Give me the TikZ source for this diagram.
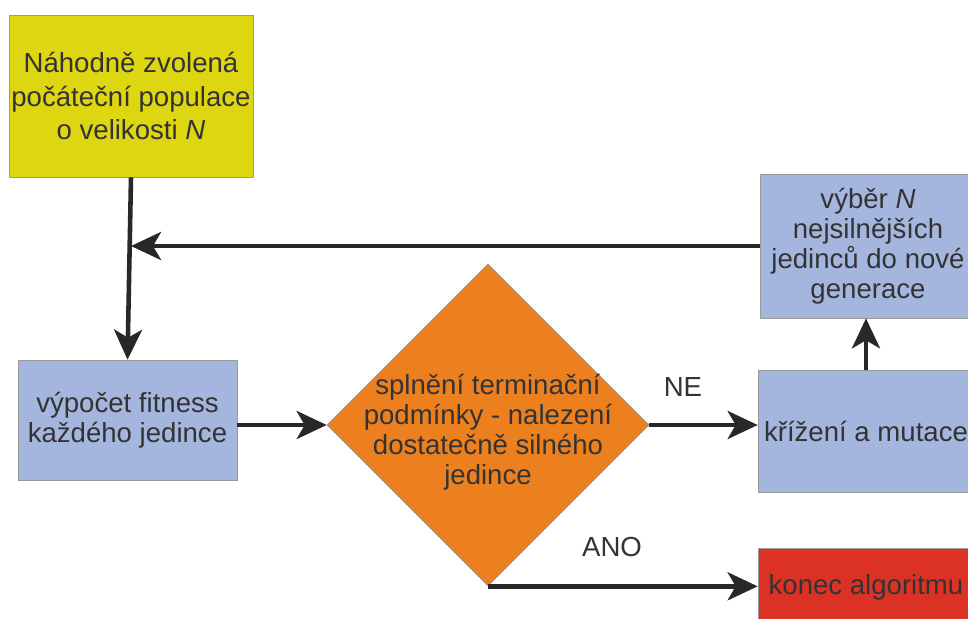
\documentclass[tikz,border=0pt]{standalone}
\usepackage{fontspec}
\setmainfont{Liberation Sans}
\usetikzlibrary{arrows.meta,shapes.geometric}
\definecolor{boxyellow}{RGB}{222,214,16}
\definecolor{boxblue}{RGB}{165,182,222}
\definecolor{boxorange}{RGB}{236,128,30}
\definecolor{boxred}{RGB}{220,50,38}
\definecolor{textgray}{RGB}{51,51,51}
\definecolor{linegray}{RGB}{40,40,40}

\begin{document}
\begin{tikzpicture}[x=0.02cm, y=-0.02cm,
    box/.style={draw=gray!80, thin, text=textgray, align=center, inner sep=0pt, font=\fontsize{15.7}{17}\selectfont},
    flow/.style={-{Stealth[length=6mm, width=5.6mm, inset=1.6mm]}, line width=2.6pt, draw=linegray},
    flowlabel/.style={text=textgray, font=\fontsize{15.7}{17}\selectfont}]
    \useasboundingbox (0,0) rectangle (968,619);

    \node[box, fill=boxyellow, minimum width=4.88cm, minimum height=3.24cm, font=\fontsize{15.7}{19.3}\selectfont] (init) at (131,96)
        {Náhodně zvolená\\počáteční populace\\o velikosti \textit{N}};
    \node[box, fill=boxblue, minimum width=4.38cm, minimum height=2.4cm] (fitness) at (127.5,420)
        {výpočet fitness\\každého jedince};
    \node[diamond, draw=gray!80, thin, fill=boxorange, minimum width=6.44cm, minimum height=6.44cm, inner sep=0pt] (cond) at (488,425) {};
    \node[text=textgray, align=center, font=\fontsize{15.7}{17}\selectfont] (condtext) at ([yshift=-0.14cm]cond.center)
        {splnění terminační\\podmínky - nalezení\\dostatečně silného\\jedince};
    \node[box, fill=boxblue, minimum width=4.32cm, minimum height=2.44cm] (cross) at (866,431) {křížení a mutace};
    \node[box, fill=boxblue, minimum width=4.3cm, minimum height=2.88cm] (select) at (868,246)
        {výběr \textit{N}\\nejsilnějších\\jedinců do nové\\generace};
    \node[box, fill=boxred, minimum width=4.32cm, minimum height=1.56cm] (end) at (866,587) {konec algoritmu};

    \draw[flow] (init.south) -- (fitness.north);
    \draw[flow] (select.west) -- (select.west -| init.south);
    \draw[flow] (fitness.east |- cond.west) -- (cond.west);
    \draw[flow] (cond.east) -- (cond.east -| cross.west) node[flowlabel, pos=0.31, yshift=0.76cm] {NE};
    \draw[flow] (cond.south) -- (cond.south -| end.west) node[flowlabel, pos=0.46, yshift=0.78cm] {ANO};
    \draw[flow] (cross.north) -- (cross.north |- select.south);
\end{tikzpicture}
\end{document}
